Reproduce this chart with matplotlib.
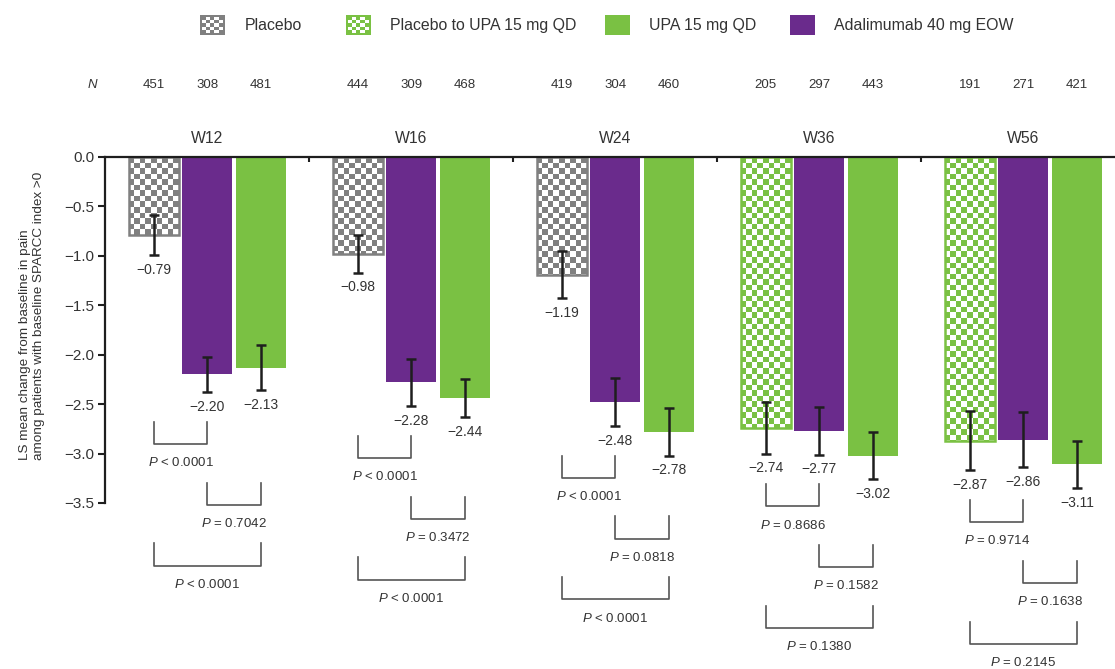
import matplotlib

matplotlib.use('Agg')

import numpy as np
from matplotlib import pyplot as plt
from matplotlib.patches import Rectangle, Patch
from matplotlib.collections import PatchCollection
from matplotlib.legend_handler import HandlerBase

plt.rcParams['font.family'] = ['Liberation Sans', 'DejaVu Sans']
plt.rcParams['mathtext.fontset'] = 'custom'
plt.rcParams['mathtext.it'] = 'Liberation Sans:italic'
plt.rcParams['mathtext.rm'] = 'Liberation Sans'

# visits
weeks = ['W12', 'W16', 'W24', 'W36', 'W56']

# patients per arm
n_pbo = [451, 444, 419, 205, 191]
n_ada = [308, 309, 304, 297, 271]
n_upa = [481, 468, 460, 443, 421]

# LS mean change and error bar half-widths
mean_pbo = [-0.79, -0.98, -1.19, -2.74, -2.87]
mean_ada = [-2.20, -2.28, -2.48, -2.77, -2.86]
mean_upa = [-2.13, -2.44, -2.78, -3.02, -3.11]
err_pbo = [0.20, 0.19, 0.24, 0.26, 0.30]
err_ada = [0.18, 0.24, 0.24, 0.24, 0.28]
err_upa = [0.23, 0.19, 0.24, 0.24, 0.24]

# placebo patients switched to UPA from W36 onwards
pbo_switched = [False, False, False, True, True]

# p-values: placebo vs ADA, ADA vs UPA, placebo vs UPA
p_pbo_ada = ['< 0.0001', '< 0.0001', '< 0.0001', '= 0.8686', '= 0.9714']
p_ada_upa = ['= 0.7042', '= 0.3472', '= 0.0818', '= 0.1582', '= 0.1638']
p_pbo_upa = ['< 0.0001', '< 0.0001', '< 0.0001', '= 0.1380', '= 0.2145']

legend_labels = ['Placebo', 'Placebo to UPA 15 mg QD', 'UPA 15 mg QD', 'Adalimumab 40 mg EOW']
yticks = [0.0, -0.5, -1.0, -1.5, -2.0, -2.5, -3.0, -3.5]

GREY = '#808080'
GREEN = '#7ac143'
PURPLE = '#6a2b8c'
TXT = '#333333'
DARK = '#1e1e1e'


def fmt(v):
    return '{:.2f}'.format(v).replace('-', '\u2212')


class CheckerHandler(HandlerBase):
    def __init__(self, color, n=5):
        super().__init__()
        self.color = color
        self.n = n

    def create_artists(self, legend, orig_handle, xdescent, ydescent, width, height, fontsize, trans):
        arts = [Rectangle((-xdescent, -ydescent), width, height, facecolor=self.color,
                          edgecolor='none', transform=trans)]
        m = 1.2
        cw = (width - 2 * m) / self.n
        ch = (height - 2 * m) / self.n
        for i in range(self.n):
            for j in range(self.n):
                if (i + j) % 2:
                    arts.append(Rectangle((-xdescent + m + i * cw, -ydescent + m + j * ch), cw, ch,
                                          facecolor='white', edgecolor='none', transform=trans))
        return arts


def checker(ax, bar, color, ncols=9):
    x0, w, h = bar.get_x(), bar.get_width(), bar.get_height()
    cw = w / ncols
    (px0, py0), (px1, py1) = ax.transData.transform([(0, 0), (1, 1)])
    ch = cw * abs(px1 - px0) / abs(py1 - py0)
    nrows = int(np.ceil(abs(h) / ch))
    cells = []
    for r in range(nrows):
        for c in range(ncols):
            if (r + c) % 2 == 1:
                cells.append(Rectangle((x0 + c * cw, -(r + 1) * ch), cw, ch))
    pc = PatchCollection(cells, facecolor='white', edgecolor='none', zorder=2.1)
    pc.set_clip_path(bar)
    ax.add_collection(pc)
    ax.add_patch(Rectangle((x0, 0), w, h, fill=False, edgecolor=color, lw=1.8, zorder=2.2))


fig = plt.figure(figsize=(11.15, 6.69), dpi=100)
ax = fig.add_axes([105 / 1115, 0, 1 - 105 / 1115, 1 - 157 / 669])
ax.set_xlim(-0.502, 4.449)
ax.set_ylim(-5.18, 0)
ax.autoscale(False)

x = np.arange(len(weeks))
off = 0.263
bw = 0.245
pbo_colors = [GREEN if s else GREY for s in pbo_switched]

bars_pbo = ax.bar(x - off, mean_pbo, bw, color=pbo_colors, zorder=2)
ax.bar(x, mean_ada, bw, color=PURPLE, zorder=2)
ax.bar(x + off, mean_upa, bw, color=GREEN, zorder=2)
for bar, c in zip(bars_pbo, pbo_colors):
    checker(ax, bar, c)

# error bars and value labels
for xs, means, errs in [(x - off, mean_pbo, err_pbo), (x, mean_ada, err_ada), (x + off, mean_upa, err_upa)]:
    ax.errorbar(xs, means, yerr=errs, fmt='none', ecolor=DARK, elinewidth=1.8,
                capsize=3.6, capthick=1.8, zorder=3)
    for xi, m, e in zip(xs, means, errs):
        ax.text(xi, m - e - 0.15, fmt(m), ha='center', va='center', fontsize=10, color=TXT)

# comparison brackets, stacked under the lower of the first pair
pairs = [(x - off, x, p_pbo_ada), (x, x + off, p_ada_upa), (x - off, x + off, p_pbo_upa)]
for g in range(len(weeks)):
    start = min(mean_pbo[g] - err_pbo[g], mean_ada[g] - err_ada[g]) - 0.30
    for k, (xa, xb, pv) in enumerate(pairs):
        top = start - k * 0.615
        bot = top - 0.225
        ax.plot([xa[g], xa[g], xb[g], xb[g]], [top, bot, bot, top], color='#555555', lw=1.2,
                clip_on=False, zorder=3)
        ax.text((xa[g] + xb[g]) / 2, bot - 0.19, r'$P$ ' + pv[g], ha='center', va='center',
                fontsize=9.5, color=TXT, clip_on=False)

# visit titles and N row
for g, wk in enumerate(weeks):
    ax.text(g, 0.19, wk, ha='center', va='center', fontsize=11.3, color=TXT, clip_on=False)
for xs, ns in [(x - off, n_pbo), (x, n_ada), (x + off, n_upa)]:
    for xi, n in zip(xs, ns):
        ax.text(xi, 0.73, str(n), ha='center', va='center', fontsize=9.5, color=TXT, clip_on=False)
ax.text(-0.566, 0.73, 'N', ha='center', va='center', fontsize=9.5, style='italic', color=TXT, clip_on=False)

# axes styling
for s in ['right', 'bottom']:
    ax.spines[s].set_visible(False)
ax.spines['top'].set_linewidth(1.6)
ax.spines['top'].set_color(DARK)
ax.spines['left'].set_linewidth(1.6)
ax.spines['left'].set_color(DARK)
ax.spines['left'].set_bounds(-3.5, 0)
ax.set_yticks(yticks)
ax.set_yticklabels(['{:.1f}'.format(v).replace('-', '\u2212') for v in yticks])
ax.tick_params(axis='y', length=5, width=1.5, color=DARK, labelsize=11, labelcolor=TXT, pad=2.5)
ax.xaxis.tick_top()
ax.set_xticks(x[:-1] + 0.5)
ax.set_xticklabels([])
ax.tick_params(axis='x', direction='in', length=3.5, width=1.5, color=DARK)

fig.text(32 / 1115, 1 - 316 / 669,
         'LS mean change from baseline in pain\namong patients with baseline SPARCC index >0',
         rotation=90, ha='center', va='center', multialignment='left', fontsize=9.7, color=TXT,
         linespacing=1.25)

# legend, one entry per box
legend_colors = [GREY, GREEN, GREEN, PURPLE]
legend_checker = [True, True, False, False]
legend_x = [200, 346, 605, 790]
for lab, col, chk, lx in zip(legend_labels, legend_colors, legend_checker, legend_x):
    h = Patch(facecolor=col, edgecolor='none', label=lab)
    hmap = {h: CheckerHandler(col)} if chk else {}
    fig.legend(handles=[h], handler_map=hmap, loc='center left', bbox_to_anchor=(lx / 1115, 1 - 25 / 669),
               frameon=False, fontsize=11.4, handlelength=1.55, handleheight=1.55, handletextpad=1.25,
               borderpad=0, borderaxespad=0, labelcolor=TXT)

plt.savefig('out.png', dpi=100)
